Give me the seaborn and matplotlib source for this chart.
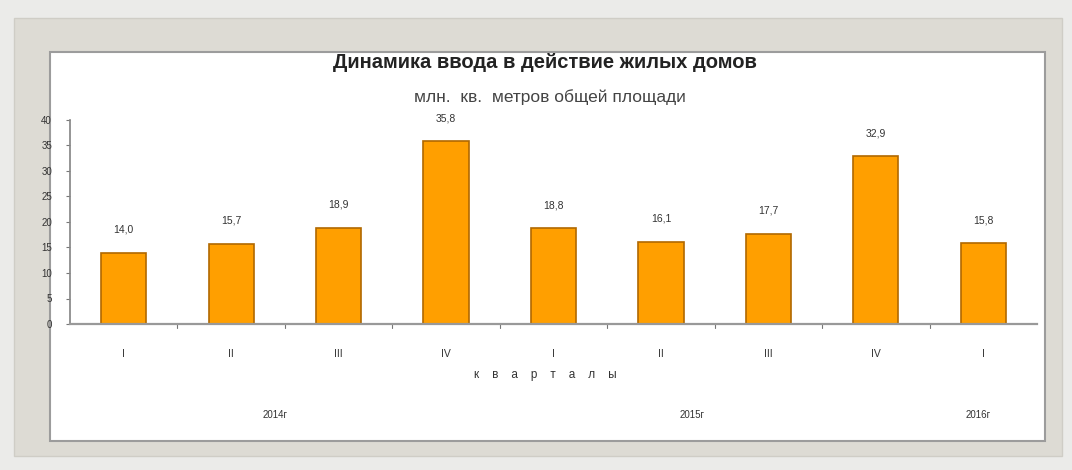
import matplotlib
matplotlib.use("Agg")
import matplotlib.pyplot as plt
import matplotlib.patches as patches
import numpy as np
import pandas as pd
import seaborn as sns

# data
quarters = ["I", "II", "III", "IV", "I", "II", "III", "IV", "I"]
years = ["2014", "2014", "2014", "2014", "2015", "2015", "2015", "2015", "2016"]
values = [14.0, 15.7, 18.9, 35.8, 18.8, 16.1, 17.7, 32.9, 15.8]
year_labels = ["2014г", "2015г", "2016г"]
y_ticks = [0, 5, 10, 15, 20, 25, 30, 35, 40]

df = pd.DataFrame({"key": [f"{y} {q}" for y, q in zip(years, quarters)],
                   "value": values})

sns.set_theme(style="white")
plt.rcParams['font.family'] = ['Liberation Sans', 'DejaVu Sans']

W, H = 1072, 470
fig = plt.figure(figsize=(W / 100, H / 100), dpi=100, facecolor="#ebebe9")

# beige frame and white panel
fig.patches.append(patches.Rectangle((14 / W, (H - 456) / H), 1048 / W, 438 / H,
                                     transform=fig.transFigure, facecolor="#dddbd4",
                                     edgecolor="#cfcdc6", lw=1, zorder=-2))
fig.patches.append(patches.Rectangle((50 / W, (H - 441) / H), 995 / W, 389 / H,
                                     transform=fig.transFigure, facecolor="white",
                                     edgecolor="#9c9c9c", lw=1.5, zorder=-1))

ax = fig.add_axes([70 / W, (H - 324) / H, 967 / W, 204 / H])
ax.set_facecolor("none")
ax.set_zorder(2)

sns.barplot(data=df, x="key", y="value", color="#ff9f00", edgecolor="#b06800",
            linewidth=1.2, width=0.42, saturation=1, ax=ax)

ax.set_ylim(0, 40)
ax.set_xlim(-0.5, len(values) - 0.5)
ax.set_yticks(y_ticks)
ax.set_yticklabels([str(t) for t in y_ticks], fontsize=7, color="#333333")
ax.set_xticks(range(len(values)))
ax.set_xticklabels(quarters, fontsize=7.5, color="#333333")
ax.tick_params(axis="x", length=0, pad=18)
ax.tick_params(axis="y", left=True, length=3, width=0.8, color="#777777", pad=10)
ax.set_xlabel("")
ax.set_ylabel("")

# small ticks between categories on the x axis
for b in np.arange(0.5, len(values) - 0.5, 1.0):
    ax.plot([b, b], [0, -0.8], color="#777777", lw=0.8, clip_on=False)

for side in ["top", "right"]:
    ax.spines[side].set_visible(False)
ax.spines["left"].set_color("#888888")
ax.spines["bottom"].set_color("#999999")
ax.spines["bottom"].set_linewidth(1.6)

for c in ax.containers:
    ax.bar_label(c, labels=[f"{v:.1f}".replace(".", ",") for v in values],
                 padding=13, fontsize=7.5, color="#333333")

fig.text(545 / W, 1 - 62 / H, "Динамика ввода в действие жилых домов",
         ha="center", va="center", fontsize=14.5, fontweight="bold", color="#222222")
fig.text(550 / W, 1 - 97 / H, "млн.  кв.  метров общей площади",
         ha="center", va="center", fontsize=12.5, color="#444444")
fig.text(545 / W, 1 - 375 / H, "к    в    а    р    т    а    л    ы",
         ha="center", va="center", fontsize=8.5, color="#333333")
for lbl, x in zip(year_labels, [275, 692, 978]):
    fig.text(x / W, 1 - 415 / H, lbl, ha="center", va="center",
             fontsize=7, color="#333333")

fig.savefig("out.png", dpi=100, facecolor=fig.get_facecolor())
